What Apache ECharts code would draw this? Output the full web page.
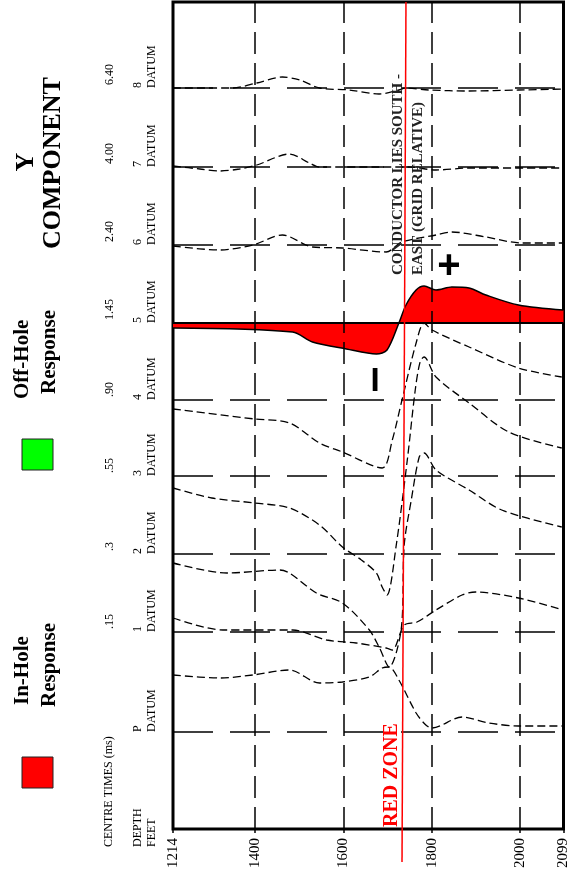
<!DOCTYPE html>
<html>
<head>
<meta charset="utf-8">
<script src="https://cdn.jsdelivr.net/npm/echarts@6/dist/echarts.min.js"></script>
<style>
  html, body { margin: 0; padding: 0; background: #fff; }
  #main { width: 571px; height: 880px; }
</style>
</head>
<body>
<div id="main"></div>
<script>
// depth axis (feet)
var depthMin = 1214, depthMax = 2099;
var depthTicks = [1214, 1400, 1600, 1800, 2000, 2099];
var gridDepths = [1400, 1600, 1800, 2000];

// channels, bottom to top
var channelNames = ['P', '1', '2', '3', '4', '5', '6', '7', '8'];
var centreTimes = ['', '.15', '.3', '.55', '.90', '1.45', '2.40', '4.00', '6.40'];
var datumLevels = [97, 197, 275, 353, 429, 506, 584, 662, 741];

// red zone marker (top / bottom depth)
var redZoneTop = 1742, redZoneBottom = 1733;

// profiles : depth + response relative to each datum
var depthP = [1214, 1320, 1395, 1478, 1546, 1598, 1659, 1688, 1704, 1726, 1765, 1787, 1801, 1869, 1930, 1997, 2099];
var ampP   = [57, 54, 57, 62, 49, 50, 55, 64, 65, 52, 19, 7, 4, 15, 9, 6, 6];

var depth1 = [1214, 1327, 1485, 1562, 1629, 1697, 1711, 1738, 1767, 1810, 1869, 1900, 1997, 2099];
var amp1   = [14, 2, 2, -8, -11, -16, -18, 7, 10, 22, 37, 40, 34, 22];

var depth2 = [1214, 1336, 1456, 1478, 1539, 1598, 1659, 1681, 1704, 1731, 1738, 1754, 1772, 1783, 1810, 1885, 1959, 2095];
var amp2   = [-9, -19, -16, -19, -39, -49, -76, -93, -113, -76, 9, 54, 97, 101, 84, 64, 44, 27];

var depth3 = [1214, 1302, 1399, 1478, 1546, 1598, 1641, 1675, 1688, 1699, 1720, 1745, 1763, 1774, 1783, 1810, 1885, 1975, 2095];
var amp3   = [-12, -22, -27, -32, -49, -71, -84, -97, -111, -119, -69, 16, 86, 114, 119, 99, 73, 44, 28];

var depth4 = [1214, 1399, 1478, 1546, 1598, 1688, 1711, 1733, 1765, 1783, 1801, 1885, 1997, 2095];
var amp4   = [-9, -19, -23, -43, -52, -68, -40, 0, 57, 77, 70, 53, 32, 23];

var depth5 = [1214, 1485, 1530, 1607, 1675, 1699, 1726, 1742, 1765, 1783, 1810, 1846, 1885, 1923, 1997, 2099];
var amp5   = [-5, -9, -19, -26, -31, -27, 0, 18, 33, 37, 33, 36, 35, 28, 18, 13];

var depth6 = [1214, 1320, 1395, 1462, 1530, 1598, 1697, 1733, 1810, 1846, 1923, 2004, 2099];
var amp6   = [-1, -5, 0, 10, -2, -3, -7, 3, 10, 13, 8, 2, 2];

var depth7 = [1214, 1275, 1320, 1365, 1404, 1478, 1523, 1546, 1681, 1749, 1810, 1885, 2099];
var amp7   = [1, -2, -4, -2, 2, 13, 4, 0, 0, 0, -3, -1, -1];

var depth8 = [1214, 1349, 1404, 1462, 1501, 1546, 1614, 1681, 1726, 1742, 1794, 1885, 1997, 2099];
var amp8   = [0, 0, 5, 11, 8, 0, -2, -6, -2, 0, -2, -3, -2, -1];

var profiles = [
  [depthP, ampP], [depth1, amp1], [depth2, amp2], [depth3, amp3], [depth4, amp4],
  [depth5, amp5], [depth6, amp6], [depth7, amp7], [depth8, amp8]
];

var gridLeft = 173, gridTop = 2, gridW = 392, gridH = 827;
var serif = '"Liberation Serif", "DejaVu Serif", serif';

function traceData(depths, amps, datum) {
  return depths.map(function (d, i) { return [d, datum + amps[i]]; });
}

// pixel row of a datum value (y axis runs 0..gridH)
function datumPx(v) { return gridTop + gridH - v; }

function vtext(x, y, text, font, align, color) {
  return {
    type: 'text', x: x, y: y, rotation: Math.PI / 2, z: 20,
    style: {
      text: text, font: font, fill: color || '#000',
      align: align || 'left', verticalAlign: 'middle',
      textAlign: align || 'left', textVerticalAlign: 'middle'
    }
  };
}

var chart = echarts.init(document.getElementById('main'));

var series = [];

// grid verticals + datum lines
series.push({
  type: 'line', data: [], silent: true, z: 1,
  markLine: {
    silent: true, symbol: ['none', 'none'], animation: false,
    label: { show: false },
    data: gridDepths.map(function (d) {
      return { xAxis: d, lineStyle: { color: '#000', width: 1.5, type: [22, 9] } };
    }).concat(datumLevels.map(function (v, i) {
      return {
        yAxis: v,
        lineStyle: i === 5
          ? { color: '#000', width: 2, type: 'solid' }
          : { color: '#000', width: 1.5, type: [40, 17] }
      };
    }))
  }
});

profiles.forEach(function (p, i) {
  var s = {
    type: 'line',
    name: channelNames[i],
    data: traceData(p[0], p[1], datumLevels[i]),
    showSymbol: false,
    smooth: 0.3,
    z: 3,
    animation: false,
    lineStyle: { color: '#000', width: 1.3, type: [8, 4] }
  };
  if (i === 5) {
    s.lineStyle = { color: '#000', width: 1.5, type: 'solid' };
    s.areaStyle = { color: '#ff0000', opacity: 1, origin: datumLevels[5] };
    s.z = 2;
  }
  series.push(s);
});

// red zone line
series.push({
  type: 'line',
  data: [[redZoneTop, gridH], [redZoneBottom, -33]],
  showSymbol: false, clip: false, z: 5, animation: false,
  lineStyle: { color: '#ff0000', width: 1.5 }
});

var graphics = [];

channelNames.forEach(function (n, i) {
  var py = datumPx(datumLevels[i]);
  if (centreTimes[i]) graphics.push(vtext(110, py - 3, centreTimes[i], '12px ' + serif));
  graphics.push(vtext(138, py, n, '12px ' + serif));
  graphics.push(vtext(152, py, 'DATUM', '12px ' + serif));
});

graphics.push(vtext(109, 847, 'CENTRE TIMES (ms)', '12px ' + serif));
graphics.push(vtext(138, 847, 'DEPTH', '12px ' + serif));
graphics.push(vtext(152, 847, 'FEET', '12px ' + serif));

// legend
graphics.push({ type: 'rect', shape: { x: 22, y: 757, width: 31, height: 31 }, style: { fill: '#ff0000', stroke: '#222', lineWidth: 1 }, z: 20 });
graphics.push({ type: 'rect', shape: { x: 22, y: 439, width: 31, height: 31 }, style: { fill: '#00ff00', stroke: '#222', lineWidth: 1 }, z: 20 });
graphics.push(vtext(23, 705, 'In-Hole', 'bold 21px ' + serif));
graphics.push(vtext(50, 707, 'Response', 'bold 21px ' + serif));
graphics.push(vtext(23, 399, 'Off-Hole', 'bold 21px ' + serif));
graphics.push(vtext(50, 394, 'Response', 'bold 21px ' + serif));
graphics.push(vtext(26, 162, 'Y', 'bold 26px ' + serif, 'center'));
graphics.push(vtext(53, 163, 'COMPONENT', 'bold 26px ' + serif, 'center'));

// annotations
graphics.push(vtext(398, 275, 'CONDUCTOR LIES SOUTH -', 'bold 15px ' + serif, 'left', '#222'));
graphics.push(vtext(418, 275, 'EAST (GRID RELATIVE)', 'bold 15px ' + serif, 'left', '#222'));
graphics.push(vtext(392, 827, 'RED ZONE', 'bold 20px ' + serif, 'left', '#ff0000'));
graphics.push({ type: 'text', x: 449, y: 267, z: 20, style: { text: '+', font: 'bold 40px "Liberation Sans", sans-serif', fill: '#000', align: 'center', verticalAlign: 'middle', textAlign: 'center', textVerticalAlign: 'middle' } });
graphics.push({ type: 'text', x: 375, y: 382, z: 20, style: { text: 'I', font: 'bold 33px "Liberation Sans", sans-serif', fill: '#000', align: 'center', verticalAlign: 'middle', textAlign: 'center', textVerticalAlign: 'middle' } });

chart.setOption({
  animation: false,
  grid: {
    left: gridLeft, top: gridTop, width: gridW, height: gridH,
    show: true, borderColor: '#000', borderWidth: 3, backgroundColor: 'transparent'
  },
  xAxis: {
    type: 'value', min: depthMin, max: depthMax,
    axisLine: { show: false },
    splitLine: { show: false },
    axisTick: { show: true, customValues: depthTicks, length: 4, lineStyle: { color: '#000', width: 1.5 } },
    axisLabel: {
      customValues: depthTicks, rotate: 90, fontSize: 15, fontFamily: serif, color: '#000', margin: 9,
      formatter: function (v) { return String(v); }
    }
  },
  yAxis: { type: 'value', min: 0, max: gridH, show: false },
  series: series,
  graphic: graphics
});
</script>
</body>
</html>
